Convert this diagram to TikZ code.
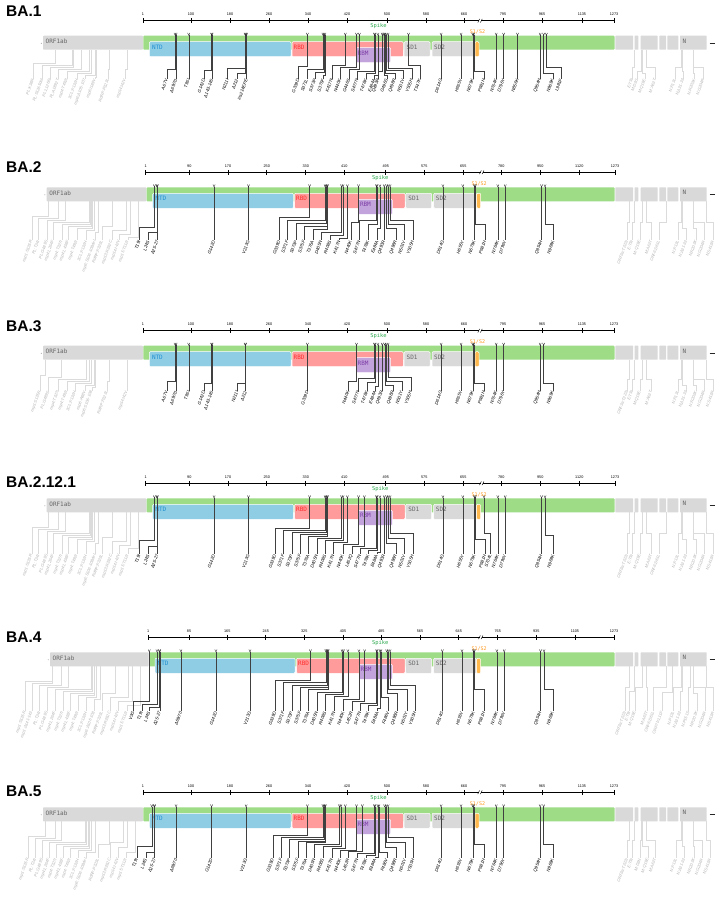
\documentclass[tikz,border=0pt]{standalone}
\usepackage{fontspec}
\setmainfont{Liberation Sans}
\newfontfamily\monof{DejaVu Sans Mono}
\definecolor{spk}{HTML}{9EDC86}
\definecolor{ntd}{HTML}{8FCDE5}
\definecolor{rbd}{HTML}{FF9B9B}
\definecolor{rbm}{HTML}{C3A3DB}
\definecolor{gbox}{HTML}{D9D9D9}
\definecolor{s12}{HTML}{FFB84D}
\definecolor{ntdt}{HTML}{1F8FD0}
\definecolor{rbdt}{HTML}{FF2E2E}
\definecolor{rbmt}{HTML}{7D3FA8}
\definecolor{spkt}{HTML}{2EAA50}
\definecolor{s12t}{HTML}{FF9A1F}
\definecolor{dt}{HTML}{666666}
\newcounter{mc}
\tikzset{
 mline/.style={draw=black!75, line width=0.35pt},
 mtip/.style={draw=black!85, line width=0.35pt},
 mlab/.style={anchor=east, rotate=70, inner sep=0.3pt, font=\fontsize{4.5}{4.5}\selectfont\itshape, text=black},
 gline/.style={draw=black!14, line width=0.35pt},
 glab/.style={anchor=east, rotate=70, inner sep=0.3pt, font=\fontsize{4.1}{4.1}\selectfont\itshape, text=black!30},
 dom/.style={rounded corners=1pt, draw=white, line width=0.5pt},
 dlab/.style={anchor=west, inner sep=0pt, font=\monof\fontsize{6}{6}\selectfont},
 tlab/.style={inner sep=0pt, font=\fontsize{3.8}{3.8}\selectfont},
 ttl/.style={anchor=base west, inner sep=0pt, font=\fontsize{15.5}{15.5}\selectfont\bfseries},
}
\newcommand\mutpos[1]{\ifnum#1<695\relax
  \pgfmathsetmacro\mxx{\spS+(#1-1)/693*(\spB-\spS)}%
 \else
  \pgfmathsetmacro\mxx{\spB+(#1-694)/579*(\spE-\spB)}%
 \fi}
\newcommand\mutS[2]{\mutpos{#1}\stepcounter{mc}%
  \draw[mline] (\mxx,14.5) -- (\mxx,\labT) node[mlab] (m\arabic{mc}) {#2};%
  \draw[mtip] (\mxx-1.1,12.2) -- (\mxx,14.6) -- (\mxx+1.1,12.2);}
\newcommand\mutB[4]{\mutpos{#1}\stepcounter{mc}%
  \draw[mline] (\mxx,14.5) -- (\mxx,#3) -- (#2,#3) -- (#2,\labT) node[mlab] (m\arabic{mc}) {#4};%
  \draw[mtip] (\mxx-1.1,12.2) -- (\mxx,14.6) -- (\mxx+1.1,12.2);}
\newcommand\gmut[4]{\stepcounter{mc}%
  \draw[gline] (#1,29) -- (#1,#3) -- (#2,#3) -- (#2,\labT) node[glab] (g\arabic{mc}) {#4};}
\newcommand\spikeframe[9]{%
 \path[fill=gbox,rounded corners=0.8pt] (#1,15) rectangle (#2-0.3,29);
 \fill[black!75] (#1-1.8,22.5) circle[radius=0.35];
 \path[fill=spk,rounded corners=0.8pt] (#2,15) rectangle (614.5,29);
 \foreach \a/\b in {615.3/633,634.5/638.3,640.7/657.7,659.3/666,667.3/678.3,680/706.7} {\path[fill=gbox,rounded corners=0.5pt] (\a,15) rectangle (\b,29);}
 \draw[black!85,line width=0.7pt] (709.5,22.5) -- (714.5,22.5);
 \path[dom,fill=ntd] (#3,21) rectangle (#4,36);
 \path[dom,fill=rbd] (#5,21) rectangle (#6,36);
 \path[dom,fill=gbox] (404+#9,21) rectangle (430+#9,36);
 \path[dom,fill=gbox] (432+#9,21) rectangle (475+#9,36);
 \path[dom,fill=s12] (475+#9,21) rectangle (479+#9,36);
 \path[dom,fill=rbm] (#7,27) rectangle (#8,42);
 \stepcounter{mc}\node[dlab,text=dt] (d\arabic{mc}a) at (#1+2.5,20.5) {ORF1ab};
 \node[dlab,text=ntdt] (d\arabic{mc}b) at (#3+2.5,26.5) {NTD};
 \node[dlab,text=rbdt] (d\arabic{mc}c) at (#5+1.5,26.5) {RBD};
 \node[dlab,text=rbmt] (d\arabic{mc}d) at (#7+1.5,32.5) {RBM};
 \node[dlab,text=dt] (d\arabic{mc}e) at (406.5+#9,26.5) {SD1};
 \node[dlab,text=dt] (d\arabic{mc}f) at (434+#9,26.5) {SD2};
 \node[dlab,text=dt] (d\arabic{mc}g) at (682.5,20.5) {N};
 \node[inner sep=0pt,text=spkt,font=\monof\fontsize{5.4}{5.4}\selectfont] (d\arabic{mc}h) at (378.5+#9,5.5) {Spike};
 \node[inner sep=0pt,text=s12t,font=\monof\fontsize{5}{5}\selectfont] (d\arabic{mc}i) at (477.5+#9,11.3) {S1/S2};
}
\newcommand\drawruler[1]{%
 \draw[line width=0.6pt] (\spS,0) -- (\spB-1.2,0);
 \draw[line width=0.6pt] (\spB+1.2,0) -- (\spE,0);
 \draw[line width=0.45pt] (\spB-2.2,1.8) -- (\spB-0.4,-1.8);
 \draw[line width=0.45pt] (\spB+0.4,1.8) -- (\spB+2.2,-1.8);
 \foreach \x/\t in {#1} {\draw[line width=0.5pt] (\x,-2.5) -- (\x,2.5); \stepcounter{mc}\node[tlab] (k\arabic{mc}) at (\x,-6.3) {\t};}
}
\newcommand\grayLeftB{%
\gmut{48.6}{31.7}{44}{nsp1:S135R}
\gmut{58.4}{38.3}{46}{PL:T24I}
\gmut{64.9}{46.7}{48}{PL:G489S}
\gmut{88.9}{53.3}{50}{nsp4:L264F}
\gmut{89.8}{61.7}{52}{nsp4:T327I}
\gmut{91.3}{68.3}{54}{nsp4:L438F}
\gmut{92.1}{76.7}{56}{nsp4:T492I}
\gmut{94.1}{86}{58}{3CL:P132H}
\gmut{98}{95}{60}{nsp6:S106-108del}
\gmut{112.5}{101.7}{54}{RdRP:P323L}
\gmut{126.5}{111.7}{58}{nsp13:R392C}
\gmut{129.9}{119.3}{62}{nsp14:I42V}
\gmut{138.3}{127.7}{65}{nsp15:T112I}}
\newcommand\grayRightB{%
\gmut{629.6}{627}{50}{ORF3a:T223I}
\gmut{634.5}{632}{50}{E:T9I}
\gmut{642.5}{640}{50}{M:Q19E}
\gmut{646}{651}{50}{M:A63T}
\gmut{665.7}{659}{50}{ORF6:D61L}
\gmut{680.8}{678}{50}{N:P13L}
\gmut{682}{686}{56}{N:Δ31-33}
\gmut{693}{696}{56}{N:R203K}
\gmut{693.2}{704}{50}{N:G204R}
\gmut{706.6}{713}{50}{N:S413R}}
\begin{document}
\begin{tikzpicture}[x=1pt,y=-1pt]
\useasboundingbox (0,0) rectangle (726,898);
\fill[white] (0,0) rectangle (726,898);
\node[ttl] (t1) at (6,16) {BA.1};
\node[ttl] (t2) at (6,172.7) {BA.2};
\node[ttl] (t3) at (6,331) {BA.3};
\node[ttl] (t4) at (6,487.7) {BA.2.12.1};
\node[ttl] (t5) at (6,642.7) {BA.4};
\node[ttl] (t6) at (6,796) {BA.5};
% ---------------- BA.1
\begin{scope}[yshift=-20.7pt]
\def\spS{143}\def\spB{480}\def\spE{614}\def\labT{58}
\spikeframe{43}{143.3}{149.3}{291}{292}{403.3}{356}{390.7}{0}
\drawruler{143/1,191/100,230/180,269/260,308/340,347/420,387/500,426/580,464/660,503/795,542/965,582/1135,614/1273}
\gmut{55}{33}{42}{PL:K38R}
\gmut{72}{42}{44}{PL:S1265del}
\gmut{73}{50}{46}{PL:L1266I}
\gmut{81}{58}{48}{PL:A1892T}
\gmut{89}{67}{50}{nsp4:T492I}
\gmut{91}{77}{52}{3CL:P132H}
\gmut{95}{85}{54}{nsp6:Δ105-107}
\gmut{96}{95}{56}{nsp6:I189V}
\gmut{109}{108}{48}{RdRP:P323L}
\gmut{127}{125}{48}{nsp14:I42V}
\gmut{634.5}{632}{46}{E:T9I}
\gmut{641.3}{637}{50}{M:D3G}
\gmut{642.5}{645}{52}{M:Q19E}
\gmut{646}{655}{46}{M:A63T}
\gmut{680.8}{675}{46}{N:P13L}
\gmut{682}{683}{50}{N:Δ31-33}
\gmut{693}{694.3}{52}{N:R203K}
\gmut{693.2}{703.3}{46}{N:G204R}
\mutB{67}{166.7}{48}{A67V}
\mutS{69}{Δ69/70}
\mutS{95}{T95I}
\mutB{142}{204}{49}{G142D}
\mutS{143}{Δ143-145}
\mutB{211}{227.5}{47}{N211I}
\mutB{212}{237}{52}{Δ212}
\mutS{214}{ins214EPE}
\mutB{339}{298.3}{45}{G339D}
\mutB{371}{306.7}{48}{S371L}
\mutB{373}{315}{51}{S373P}
\mutB{375}{323.3}{54}{S375F}
\mutB{417}{331.7}{44.5}{K417N}
\mutB{440}{340}{46.5}{N440K}
\mutB{446}{349}{48.5}{G446S}
\mutB{477}{357.3}{50.5}{S477N}
\mutB{478}{366}{52.5}{T478K}
\mutB{484}{374.3}{54.5}{E484A}
\mutB{493}{378.6}{50}{Q493R}
\mutB{496}{386.7}{54.5}{G496S}
\mutB{498}{395}{52}{Q498R}
\mutB{501}{403.3}{49.5}{N501Y}
\mutB{505}{411.7}{47}{Y505H}
\mutB{547}{420}{44.5}{T547K}
\mutS{614}{D614G}
\mutS{655}{H655Y}
\mutS{679}{N679K}
\mutB{681}{484}{50}{P681H}
\mutS{764}{N764K}
\mutS{796}{D796Y}
\mutS{856}{N856K}
\mutS{954}{Q954H}
\mutB{969}{552.7}{52}{N969K}
\mutB{981}{561}{46}{L981F}
\end{scope}
% ---------------- BA.2
\begin{scope}[yshift=-172.3pt]
\def\spS{145.7}\def\spB{481.7}\def\spE{615}\def\labT{68}
\spikeframe{46.7}{146.7}{152.7}{293.3}{294.5}{405}{358.3}{392.3}{1.7}
\drawruler{145.7/1,189.3/90,228/170,266.7/250,305.7/330,344.3/410,385.7/495,424.3/575,463.3/655,501.3/780,540.3/950,579.3/1120,615/1273}
\grayLeftB
\grayRightB
\mutB{19}{139.3}{55}{T19I}
\mutB{24}{148.3}{60}{L24S}
\mutS{25}{Δ25-27}
\mutS{142}{G142D}
\mutS{213}{V213G}
\mutB{339}{279.3}{45}{G339D}
\mutB{371}{287.3}{48}{S371F}
\mutB{373}{296}{51}{S373P}
\mutB{375}{304}{54}{S375F}
\mutB{376}{312.7}{57}{T376A}
\mutB{405}{321}{60}{D405N}
\mutB{408}{330}{63}{R408S}
\mutB{417}{339.3}{66}{K417N}
\mutB{440}{350.7}{50}{N440K}
\mutB{477}{359.3}{48}{S477N}
\mutB{478}{368}{52}{T478K}
\mutB{484}{377.3}{56}{E484A}
\mutS{493}{Q493R}
\mutB{498}{396}{56}{Q498R}
\mutB{501}{404.3}{52}{N501Y}
\mutB{505}{412.7}{48}{Y505H}
\mutS{614}{D614G}
\mutS{655}{H655Y}
\mutS{679}{N679K}
\mutB{681}{485}{52}{P681H}
\mutS{764}{N764K}
\mutS{796}{D796Y}
\mutS{954}{Q954H}
\mutB{969}{553.3}{52}{N969K}
\end{scope}
% ---------------- BA.3
\begin{scope}[yshift=-330.7pt]
\def\spS{143}\def\spB{480}\def\spE{614}\def\labT{60}
\spikeframe{43}{143.3}{149.3}{291}{292}{403.3}{356}{390.7}{0}
\drawruler{143/1,191/100,230/180,269/260,308/340,347/420,387/500,426/580,464/660,503/795,542/965,582/1135,614/1273}
\gmut{44.9}{40}{44}{nsp1:S135R}
\gmut{61.4}{48.3}{46}{PL:G489S}
\gmut{86.5}{58.3}{48}{nsp4:T327I}
\gmut{88.9}{66.7}{50}{nsp4:T492I}
\gmut{90.8}{75}{52}{3CL:P132H}
\gmut{94.5}{85}{54}{nsp6:A88V}
\gmut{94.8}{91.7}{56}{nsp6:S106-108}
\gmut{109.4}{106.7}{50}{RdRP:P323L}
\gmut{127.1}{126.7}{50}{nsp14:I42V}
\gmut{629.6}{627}{48}{ORF3a:T223I}
\gmut{634.5}{632}{48}{E:T9I}
\gmut{642.5}{640}{48}{M:Q19E}
\gmut{646}{651}{48}{M:A63T}
\gmut{680.8}{678}{48}{N:P13L}
\gmut{682}{686}{54}{N:Δ31-33}
\gmut{693}{696}{54}{N:R203K}
\gmut{693.2}{704}{48}{N:G204R}
\gmut{706.6}{713}{48}{N:S413R}
\mutB{67}{166.7}{50}{A67V}
\mutS{69}{Δ69/70}
\mutS{95}{T95I}
\mutB{142}{204}{52}{G142D}
\mutS{143}{Δ143-145}
\mutB{211}{237}{52}{N211I}
\mutS{212}{Δ212}
\mutS{339}{G339D}
\mutB{440}{348.3}{50}{N440K}
\mutB{477}{358.3}{47}{S477N}
\mutB{478}{367}{51}{T478K}
\mutB{484}{375}{55}{E484A}
\mutS{493}{Q493R}
\mutB{498}{393.3}{54}{Q498R}
\mutB{501}{401.7}{50}{N501Y}
\mutB{505}{410.7}{46}{Y505H}
\mutS{614}{D614G}
\mutS{655}{H655Y}
\mutS{679}{N679K}
\mutB{681}{484}{52}{P681H}
\mutS{764}{N764K}
\mutS{796}{D796Y}
\mutS{954}{Q954H}
\mutB{969}{552.7}{52}{N969K}
\end{scope}
% ---------------- BA.2.12.1
\begin{scope}[yshift=-483.3pt]
\def\spS{145.7}\def\spB{481.7}\def\spE{615}\def\labT{71}
\spikeframe{46.7}{146.7}{152.7}{293.3}{294.5}{405}{358.3}{392.3}{1.7}
\drawruler{145.7/1,189.3/90,228/170,266.7/250,305.7/330,344.3/410,385.7/495,424.3/575,463.3/655,501.3/780,540.3/950,579.3/1120,615/1273}
\grayLeftB
\grayRightB
\mutB{19}{139.3}{57}{T19I}
\mutB{24}{148.3}{63}{L24S}
\mutS{25}{Δ25-27}
\mutS{142}{G142D}
\mutS{213}{V213G}
\mutB{339}{275}{45}{G339D}
\mutB{371}{283.3}{47}{S371F}
\mutB{373}{291.7}{49}{S373P}
\mutB{375}{300}{51}{S375F}
\mutB{376}{308.3}{53}{T376A}
\mutB{405}{316.7}{55}{D405N}
\mutB{408}{325}{57}{R408S}
\mutB{417}{333.3}{59}{K417N}
\mutB{440}{342.7}{61}{N440K}
\mutB{452}{351.7}{63}{L452Q}
\mutB{477}{360}{65}{S477N}
\mutB{478}{368.3}{67}{T478K}
\mutB{484}{376.7}{69}{E484A}
\mutS{493}{Q493R}
\mutB{498}{396}{60}{Q498R}
\mutB{501}{404.3}{55}{N501Y}
\mutB{505}{412.7}{50}{Y505H}
\mutS{614}{D614G}
\mutS{655}{H655Y}
\mutS{679}{N679K}
\mutB{681}{485}{56}{P681H}
\mutB{704}{490.5}{50}{S704L}
\mutS{764}{N764K}
\mutS{796}{D796Y}
\mutS{954}{Q954H}
\mutB{969}{553.3}{52}{N969K}
\end{scope}
% ---------------- BA.4
\begin{scope}[yshift=-637.3pt]
\def\spS{148.3}\def\spB{480.7}\def\spE{614}\def\labT{74}
\spikeframe{50}{149}{155}{295}{296.5}{405}{359}{392.3}{1.7}
\drawruler{148.3/1,189/85,227.3/165,265.7/245,304.3/325,343/405,381.3/485,420/565,458.7/645,497.7/765,536.3/935,575/1105,614/1273}
\gmut{51.9}{25}{44}{nsp1:S135R}
\gmut{52}{31.7}{46}{nsp1:Δ141-143}
\gmut{61.5}{39.3}{48}{PL:T24I}
\gmut{67.9}{46.7}{50}{PL:G489S}
\gmut{91.5}{55}{52}{nsp4:L264F}
\gmut{92.4}{62.7}{54}{nsp4:T327I}
\gmut{93.9}{70}{56}{nsp4:L438F}
\gmut{94.6}{77.7}{58}{nsp4:T492I}
\gmut{96.6}{86}{60}{3CL:P132H}
\gmut{100.4}{94}{62}{nsp6:Δ106-108}
\gmut{114.7}{101.7}{56}{RdRP:P323L}
\gmut{128.5}{110}{60}{nsp13:R392C}
\gmut{131.8}{118.3}{64}{nsp14:I42V}
\gmut{140}{126.7}{68}{nsp15:T112I}
\gmut{629.6}{625}{50}{ORF3a:T223I}
\gmut{634.5}{629.3}{54}{E:T9I}
\gmut{642.5}{635}{50}{M:Q19E}
\gmut{646}{646.7}{50}{M:A63T}
\gmut{665.7}{653.3}{50}{ORF6:D61L}
\gmut{672}{661.7}{55}{ORF7b:L11F}
\gmut{680.8}{673.3}{50}{N:P13L}
\gmut{682}{680}{54}{N:Δ31-33}
\gmut{689.7}{688.3}{50}{N:P151S}
\gmut{693}{696.7}{56}{N:R203K}
\gmut{693.2}{705}{50}{N:G204R}
\gmut{706.6}{713.3}{50}{N:S413R}
\mutB{3}{133.3}{64}{V3G}
\mutB{19}{141.7}{67}{T19I}
\mutB{24}{149}{70}{L24S}
\mutS{25}{Δ25-27}
\mutS{69}{Δ69/70}
\mutS{142}{G142D}
\mutS{213}{V213G}
\mutB{339}{275}{43}{G339D}
\mutB{371}{283.3}{45.3}{S371F}
\mutB{373}{291.7}{47.6}{S373P}
\mutB{375}{300}{49.9}{S375F}
\mutB{376}{308.3}{52.2}{T376A}
\mutB{405}{316.7}{54.5}{D405N}
\mutB{408}{325}{56.8}{R408S}
\mutB{417}{334.3}{59.1}{K417N}
\mutB{440}{343.3}{61.4}{N440K}
\mutB{452}{351.7}{63.7}{L452R}
\mutB{477}{360}{66}{S477N}
\mutB{478}{368.3}{68.3}{T478K}
\mutB{484}{377.5}{70.6}{E484A}
\mutB{486}{388}{60}{F486V}
\mutB{498}{397.3}{56}{Q498R}
\mutB{501}{406.7}{52}{N501Y}
\mutB{505}{415}{48}{Y505H}
\mutS{614}{D614G}
\mutS{655}{H655Y}
\mutS{679}{N679K}
\mutB{681}{484}{52}{P681H}
\mutS{764}{N764K}
\mutS{796}{D796Y}
\mutS{954}{Q954H}
\mutB{969}{552.7}{52}{N969K}
\end{scope}
% ---------------- BA.5
\begin{scope}[yshift=-792.3pt]
\def\spS{143}\def\spB{480}\def\spE{614}\def\labT{66}
\spikeframe{43}{143.3}{149.3}{291}{292}{403.3}{356}{390.7}{0}
\drawruler{143/1,191/100,230/180,269/260,308/340,347/420,387/500,426/580,464/660,503/795,542/965,582/1135,614/1273}
\gmut{44.9}{28}{44}{nsp1:S135R}
\gmut{54.9}{35}{46}{PL:T24I}
\gmut{61.4}{42}{48}{PL:G489S}
\gmut{85.6}{49}{50}{nsp4:L264F}
\gmut{86.5}{56}{52}{nsp4:T327I}
\gmut{88.1}{63}{54}{nsp4:L438F}
\gmut{88.9}{70}{56}{nsp4:T492I}
\gmut{90.8}{78}{58}{3CL:P132H}
\gmut{94.8}{86}{60}{nsp6:S106-108del}
\gmut{109.4}{98}{52}{RdRP:P323L}
\gmut{123.6}{110}{50}{nsp13:R392C}
\gmut{127.1}{118}{55}{nsp14:I42V}
\gmut{135.5}{126}{60}{nsp15:T112I}
\gmut{629.6}{627}{48}{ORF3a:T223I}
\gmut{634.5}{632}{48}{E:T9I}
\gmut{641.3}{640}{48}{M:D3N}
\gmut{642.5}{648}{54}{M:Q19E}
\gmut{646}{655}{48}{M:A63T}
\gmut{680.8}{676}{48}{N:P13L}
\gmut{682}{684}{54}{N:Δ31-33}
\gmut{693}{694}{54}{N:R203K}
\gmut{693.2}{702}{48}{N:G204R}
\gmut{706.6}{710}{48}{N:S413R}
\mutB{19}{136.7}{54}{T19I}
\mutB{24}{145.7}{60}{L24S}
\mutS{25}{Δ25-27}
\mutS{69}{Δ69/70}
\mutS{142}{G142D}
\mutS{213}{V213G}
\mutB{339}{272.7}{43}{G339D}
\mutB{371}{281}{44.8}{S371F}
\mutB{373}{289.3}{46.6}{S373P}
\mutB{375}{297.7}{48.4}{S375F}
\mutB{376}{306}{50.2}{T376A}
\mutB{405}{314.3}{52}{D405N}
\mutB{408}{322.7}{53.8}{R408S}
\mutB{417}{331.7}{55.6}{K417N}
\mutB{440}{340}{57.4}{N440K}
\mutB{452}{348.3}{59.2}{L452R}
\mutB{477}{357.3}{61}{S477N}
\mutB{478}{366}{62.8}{T478K}
\mutB{484}{375}{64.4}{E484A}
\mutB{486}{386.7}{60}{F486V}
\mutB{498}{396}{55}{Q498R}
\mutB{501}{405}{50}{N501Y}
\mutB{505}{413.3}{45}{Y505H}
\mutS{614}{D614G}
\mutS{655}{H655Y}
\mutS{679}{N679K}
\mutB{681}{484}{52}{P681H}
\mutS{764}{N764K}
\mutS{796}{D796Y}
\mutS{954}{Q954H}
\mutB{969}{552.7}{52}{N969K}
\end{scope}
\end{tikzpicture}
\end{document}
